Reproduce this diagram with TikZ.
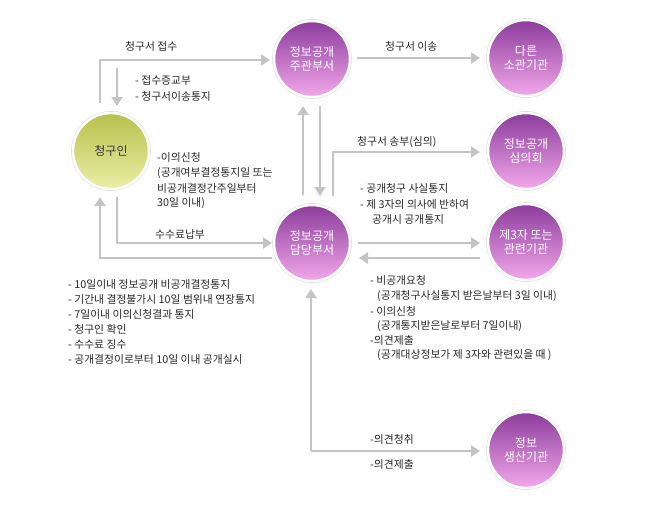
\documentclass[tikz,border=0pt]{standalone}
\usepackage{fontspec}
\setmainfont{Noto Sans CJK KR}
\usetikzlibrary{arrows.meta,shadows}
\definecolor{ln}{HTML}{C4C4C4}
\definecolor{ptop}{HTML}{8C3C9C}
\definecolor{pbot}{HTML}{F2A8EA}
\definecolor{gtop}{HTML}{B8C04C}
\definecolor{gbot}{HTML}{EAEEA6}
\begin{document}
\begin{tikzpicture}[x=1pt,y=-1pt,font=\fontsize{10.8}{13}\selectfont,
  circ/.style={circle,minimum size=76pt,draw=white,line width=2.5pt,
    top color=ptop,bottom color=pbot,text=white,align=center,inner sep=0pt,
    font=\fontsize{12}{14}\selectfont,
    drop shadow={shadow xshift=0pt,shadow yshift=0pt,opacity=0.25,shadow scale=1.05}},
  gcirc/.style={circ,top color=gtop,bottom color=gbot,text=black!80},
  con/.style={draw=ln,line width=2.8pt,-{Triangle[length=9pt,width=11pt]}},
  lbl/.style={anchor=west,inner sep=0pt,align=left,text=black!85}]
\useasboundingbox (0,0) rectangle (650,512);
\node[gcirc] (a) at (111,151) {청구인};
\node[circ] (b) at (312,59) {정보공개\\주관부서};
\node[circ] (c) at (526,58) {다른\\소관기관};
\node[circ] (d) at (526,151) {정보공개\\심의회};
\node[circ] (e) at (312,243) {정보공개\\담당부서};
\node[circ] (f) at (526,242) {제3자 또는\\관련기관};
\node[circ] (g) at (526,450) {정보\\생산기관};
\coordinate (a1) at (100,103);
\coordinate (a2) at (100,197);
\coordinate (a3) at (117,197);
\draw[con] (a1) |- (270,60);
\draw[con] (117,68) -- (117,106);
\draw[con] (357,58) -- (480,58);
\draw[con] (303,195) -- (303,106);
\draw[con] (320,106) -- (320,196);
\draw[con] (333,196) |- (480,152);
\draw[con] (358,243) -- (480,243);
\draw[con] (480,258) -- (359,258);
\draw[con] (a3) |- (272,243);
\draw[con] (272,258) -| (a2);
\draw[con] (311,451) -- (311,289);
\draw[con] (311,451) -- (480,451);
\node[lbl] at (125,46) {청구서 접수};
\node[lbl] at (135,80) {- 접수증교부};
\node[lbl] at (135,96) {- 청구서이송통지};
\node[lbl] at (385,46) {청구서 이송};
\node[lbl] at (357,142) {청구서 송부(심의)};
\node[lbl] at (157,157) {-이의신청};
\node[lbl] at (157,173) {(공개여부결정통지일 또는};
\node[lbl] at (157,188) {비공개결정간주일부터};
\node[lbl] at (157,203) {30일 이내)};
\node[lbl] at (155,234) {수수료납부};
\node[lbl] at (360,188) {- 공개청구 사실통지};
\node[lbl] at (360,204) {- 제 3자의 의사에 반하여};
\node[lbl] at (372,219) {공개시 공개통지};
\node[lbl] at (370,280) {- 비공개요청};
\node[lbl] at (377,296) {(공개청구사실통지 받은날부터 3일 이내)};
\node[lbl] at (370,311) {- 이의신청};
\node[lbl] at (377,326) {(공개통지받은날로부터 7일이내)};
\node[lbl] at (370,340) {-의견제출};
\node[lbl] at (377,355) {(공개대상정보가 제 3자와 관련있을 때 )};
\node[lbl] at (68,284) {- 10일이내 정보공개 비공개결정통지};
\node[lbl] at (68,299) {- 기간내 결정불가시 10일 범위내 연장통지};
\node[lbl] at (68,314) {- 7일이내 이의신청결과 통지};
\node[lbl] at (68,329) {- 청구인 확인};
\node[lbl] at (68,344) {- 수수료 징수};
\node[lbl] at (68,359) {- 공개결정이로부터 10일 이내 공개실시};
\node[lbl] at (370,439) {-의견청취};
\node[lbl] at (370,464) {-의견제출};
\end{tikzpicture}
\end{document}
